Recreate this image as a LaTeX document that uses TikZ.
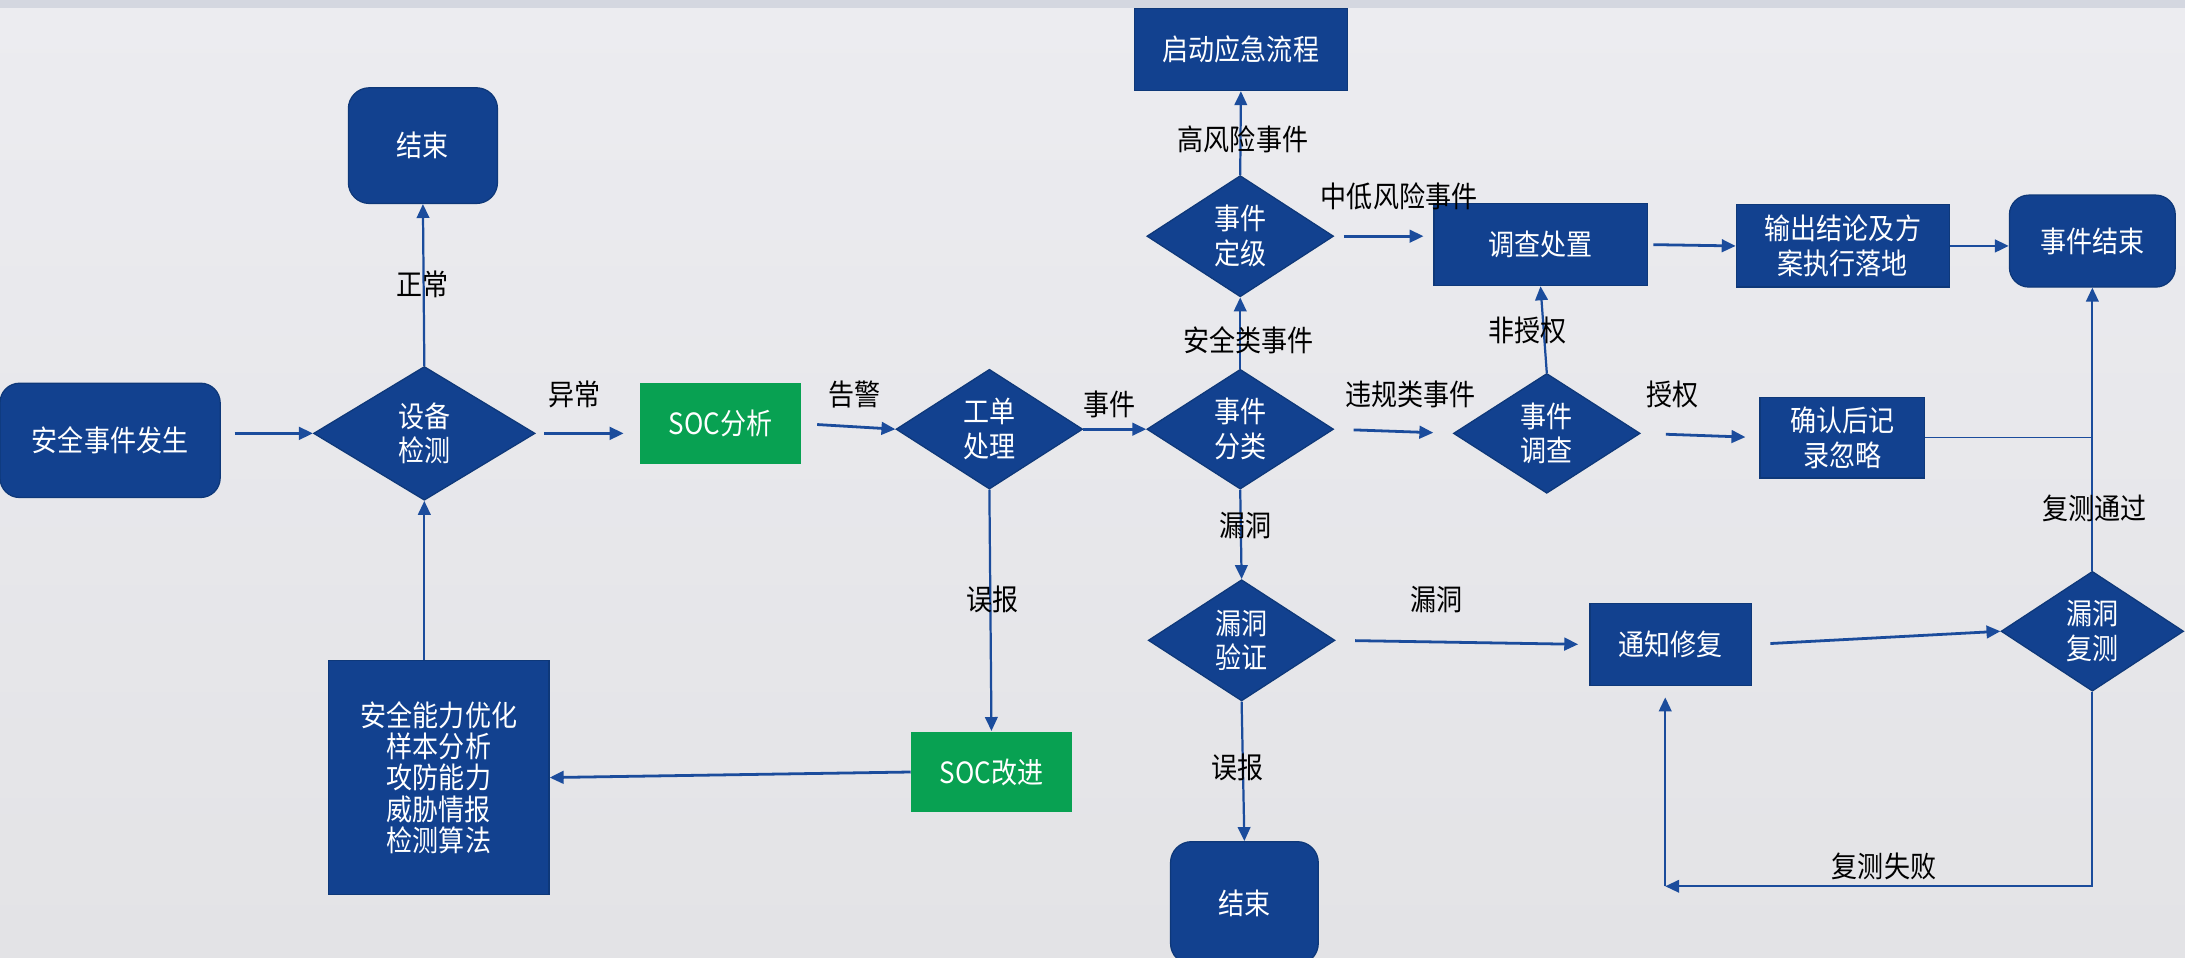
\documentclass[tikz,border=0pt]{standalone}
\usepackage{fontspec}
\setmainfont{Noto Sans CJK SC}[FakeStretch=0.89]
\usetikzlibrary{shapes.geometric,arrows.meta}
\definecolor{nblue}{HTML}{12418F}
\definecolor{nborder}{HTML}{0E3879}
\definecolor{aline}{HTML}{1B4C9C}
\definecolor{ngreen}{HTML}{08A152}
\definecolor{bgtop}{HTML}{ECECF0}
\definecolor{bgbot}{HTML}{E3E3E6}
\definecolor{band}{HTML}{D4D7E0}
\begin{document}
\begin{tikzpicture}[x=1pt,y=-1pt,
  box/.style={draw=nborder, fill=nblue, text=white, line width=0.9pt, inner sep=0pt,
    font=\fontsize{21}{25}\selectfont, align=center},
  rbox/.style={box, rounded corners=14pt},
  dia/.style={box, diamond},
  gbox/.style={box, draw=none, fill=ngreen},
  arr/.style={draw=aline, line width=1.6pt, -{Triangle[length=10pt,width=9pt]}},
  plain/.style={draw=aline, line width=1.2pt},
  lab/.style={font=\fontsize{21}{24}\selectfont, text=black, inner sep=0pt}]
\useasboundingbox (0,0) rectangle (1568,687);
\shade[top color=bgtop, bottom color=bgbot] (0,0) rectangle (1568,687);
\fill[band] (0,0) rectangle (1568,6);

% nodes
\node[rbox, minimum width=158pt, minimum height=82pt] (start) at (79,316) {安全事件发生};
\node[dia, minimum width=159pt, minimum height=96pt] (det) at (304.5,311) {设备\\检测};
\node[rbox, rounded corners=15pt, minimum width=107pt, minimum height=83pt] (end1) at (303.5,104.5) {结束};
\node[gbox, minimum width=116pt, minimum height=58pt] (soc) at (517,304) {SOC分析};
\node[dia, minimum width=134pt, minimum height=86pt] (gd) at (710,308) {工单\\处理};
\node[dia, minimum width=134pt, minimum height=86pt] (cls) at (890,308) {事件\\分类};
\node[dia, minimum width=134pt, minimum height=87pt] (grade) at (890,169.5) {事件\\定级};
\node[box, minimum width=153pt, minimum height=59pt] (emerg) at (890.5,35.5) {启动应急流程};
\node[box, minimum width=153pt, minimum height=59pt] (inv) at (1105.5,175.5) {调查处置};
\node[box, minimum width=153pt, minimum height=59pt] (out) at (1322.5,176.5) {输出结论及方\\案执行落地};
\node[rbox, minimum width=119pt, minimum height=66pt] (fin) at (1501.5,173) {事件结束};
\node[dia, minimum width=134pt, minimum height=86pt] (ei) at (1110,311) {事件\\调查};
\node[box, minimum width=118pt, minimum height=58pt] (conf) at (1322,314) {确认后记\\录忽略};
\node[dia, minimum width=134pt, minimum height=87pt] (vv) at (891,459.5) {漏洞\\验证};
\node[box, minimum width=116pt, minimum height=59pt] (fix) at (1199,462.5) {通知修复};
\node[dia, minimum width=131pt, minimum height=86pt] (retest) at (1501.5,453) {漏洞\\复测};
\node[rbox, rounded corners=15pt, minimum width=106pt, minimum height=88pt] (endb) at (893,648) {结束};
\node[gbox, minimum width=115pt, minimum height=58pt] (socimp) at (711.5,554) {SOC改进};
\node[box, font=\fontsize{21}{22.5}\selectfont, minimum width=158pt, minimum height=168pt] (opt) at (315,558) {安全能力优化\\样本分析\\攻防能力\\威胁情报\\检测算法};

% connectors
\draw[arr, line width=2pt, shorten <=10pt] (start.east |- det.west) -- (det.west);
\draw[arr] (det.north) -- (end1.south);
\draw[arr, line width=2pt, shorten <=6pt, shorten >=11pt] (det.east) -- (det.east -| soc.west);
\draw[arr, line width=2pt, shorten <=11pt] (soc.east) -- (gd.west);
\draw[arr, line width=2pt] (gd.east) -- (cls.west);
\draw[arr] (cls.north) -- (grade.south);
\draw[arr] (grade.north) -- (emerg.south);
\draw[arr, line width=2pt, shorten <=7pt, shorten >=7pt] (grade.east) -- (grade.east -| inv.west);
\draw[arr, line width=2pt, shorten <=4pt] (inv.east) -- (out.west);
\draw[arr, line width=2pt] (out.east) -- (out.east -| fin.west);
\draw[arr, line width=2pt, shorten <=14pt, shorten >=14pt] (cls.east) -- (ei.west);
\draw[arr] (ei.north) -- (inv.south);
\draw[arr, line width=2pt, shorten <=18pt, shorten >=10pt] (ei.east) -- (conf.west);
\draw[plain] (conf.east) -- (conf.east -| fin.south);
\draw[arr] (cls.south) -- (vv.north);
\draw[arr, line width=2pt, shorten <=14pt, shorten >=8pt] (vv.east) -- (fix.west);
\draw[arr, line width=2pt, shorten <=13pt] (fix.east) -- (retest.west);
\draw[arr] (retest.north) -- (fin.south);
\coordinate (failc) at (1195,636);
\draw[arr] (retest.south) |- (failc);
\draw[arr, shorten >=8pt] (failc) -- (failc |- fix.south);
\draw[arr] (vv.south) -- (endb.north);
\draw[arr] (gd.south) -- (socimp.north);
\draw[arr, line width=2pt] (socimp.west) -- (opt.east);
\draw[arr] (opt.north -| det.south) -- (det.south);

% labels
\node[lab] (l1) at (303,204) {正常};
\node[lab] (l2) at (412,283) {异常};
\node[lab] (l3) at (613,283) {告警};
\node[lab] (l4) at (796,290) {事件};
\node[lab] (l5) at (896,244) {安全类事件};
\node[lab] (l6) at (892,100) {高风险事件};
\node[lab] (l7) at (1004,141) {中低风险事件};
\node[lab] (l8) at (1012,283) {违规类事件};
\node[lab] (l9) at (1096,237) {非授权};
\node[lab] (l10) at (1200,283) {授权};
\node[lab] (l11) at (894,377) {漏洞};
\node[lab] (l12) at (1031,430) {漏洞};
\node[lab] (l13) at (1503,365) {复测通过};
\node[lab] (l14) at (712,430) {误报};
\node[lab] (l15) at (888,551) {误报};
\node[lab] (l16) at (1352,622) {复测失败};
\end{tikzpicture}
\end{document}
